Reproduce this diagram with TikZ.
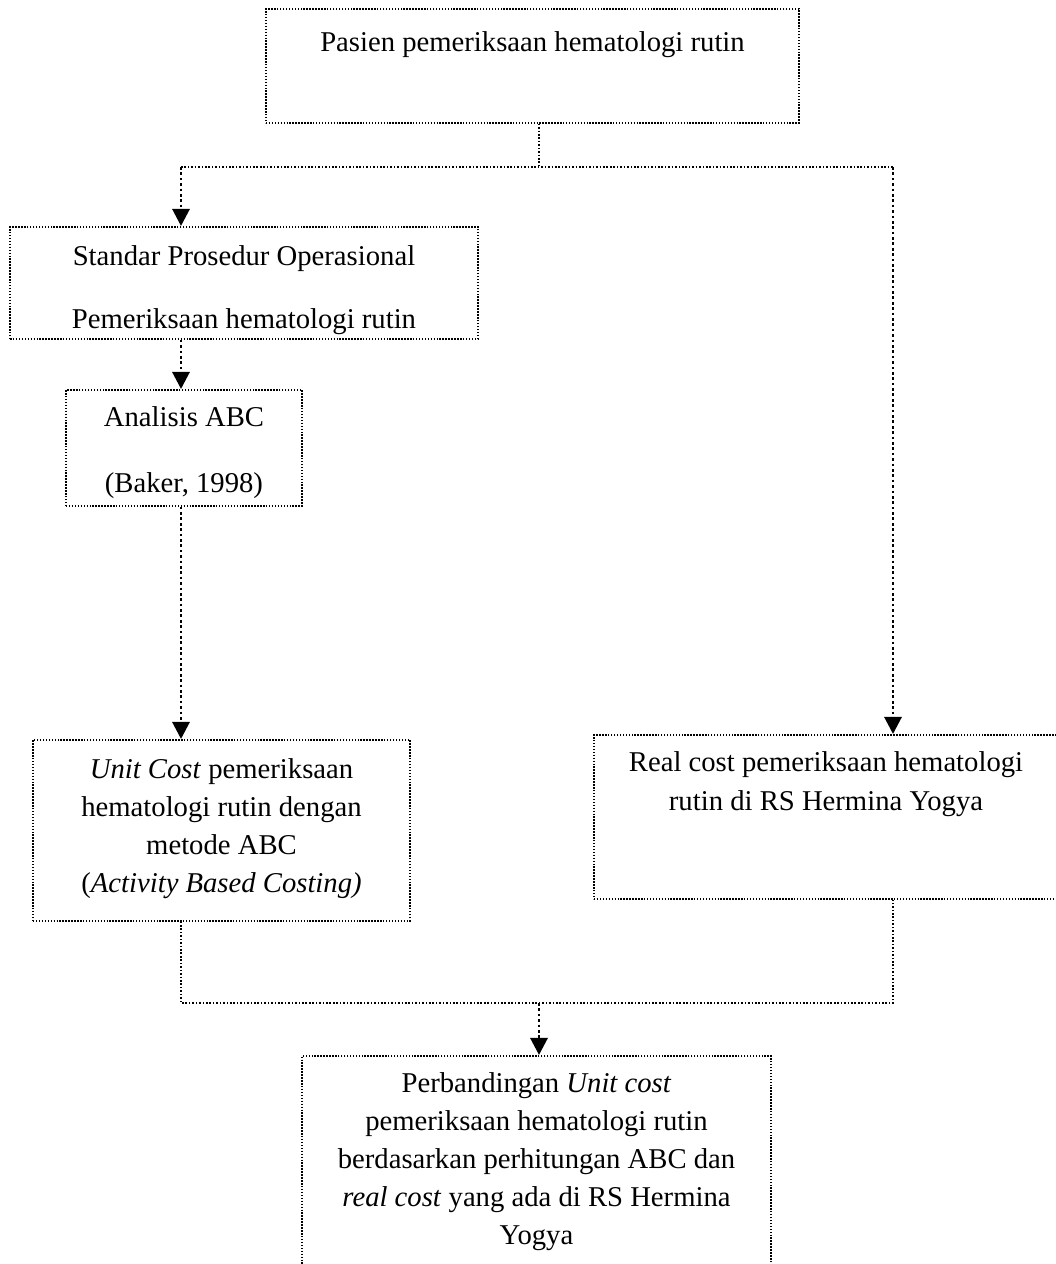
\documentclass[tikz,border=0pt]{standalone}
\usepackage{fontspec}
\setmainfont{Liberation Serif}
\usetikzlibrary{arrows.meta,positioning,calc}
\tikzset{
  stage/.style={
    rectangle,
    draw=black,
    line width=0.7pt,
    dash pattern=on 0.6pt off 0.6pt,
    inner sep=0pt,
    anchor=north,
    align=center,
    font=\fontsize{11.7pt}{15.6pt}\selectfont
  },
  line/.style={-{Triangle[length=7pt,width=7pt]}, line width=1.2pt, dash pattern=on 1.1pt off 1.1pt},
  joint/.style={line width=0.75pt, dash pattern=on 0.65pt off 0.75pt}
}

\begin{document}
\begin{tikzpicture}[x=0.408pt,y=-0.408pt]
  \useasboundingbox (0,0) rectangle (1056,1264);

  \node[stage, minimum width=217.5pt, text height=17.5pt, text depth=29pt] (pasien) at (532.5,8) {Pasien pemeriksaan hematologi rutin};
  \node[stage, minimum width=190.9pt, text height=41.6pt, text depth=4.1pt, font=\fontsize{11.7pt}{25.7pt}\selectfont] (spo) at (244,226) {Standar Prosedur Operasional\\Pemeriksaan hematologi rutin};
  \node[stage, minimum width=96.3pt, text height=42pt, text depth=5.3pt, font=\fontsize{11.7pt}{26.9pt}\selectfont] (abc) at (184,389) {Analisis ABC\\(Baker, 1998)};
  \node[stage, minimum width=153.8pt, text height=62.4pt, text depth=11.4pt] (unitcost) at (221.5,739) {\textit{Unit Cost} pemeriksaan\\hematologi rutin dengan\\metode ABC\\(\textit{Activity Based Costing)}};
  \node[stage, minimum width=189.3pt, text height=31pt, text depth=35.9pt, font=\fontsize{11.7pt}{15.9pt}\selectfont] (realcost) at (826,734) {Real cost pemeriksaan hematologi\\rutin di RS Hermina Yogya};
  \node[stage, minimum width=191.4pt, text height=77.1pt, text depth=12.6pt, font=\fontsize{11.7pt}{15.5pt}\selectfont] (perbandingan) at (536.5,1055) {Perbandingan \textit{Unit cost}\\pemeriksaan hematologi rutin\\berdasarkan perhitungan ABC dan\\\textit{real cost} yang ada di RS Hermina\\Yogya};

  \coordinate (split) at (539,167);
  \coordinate (lturn) at (181,167);
  \coordinate (rturn) at (893,167);
  \coordinate (merge) at (539,1003);
  \coordinate (lmerge) at (181,1003);
  \coordinate (rmerge) at (893,1003);

  \draw[joint] (pasien.south -| split) -- (split);
  \draw[joint] (lturn) -- (rturn);
  \draw[line] (lturn) -- (spo.north -| lturn);
  \draw[line] (rturn) -- (realcost.north -| rturn);
  \draw[line] (spo.south -| lturn) -- (abc.north -| lturn);
  \draw[line] (abc.south -| lturn) -- (unitcost.north -| lturn);
  \draw[joint] (unitcost.south -| lmerge) -- (lmerge) -- (rmerge) -- (realcost.south -| rmerge);
  \draw[line] (merge) -- (perbandingan.north -| merge);
\end{tikzpicture}
\end{document}
